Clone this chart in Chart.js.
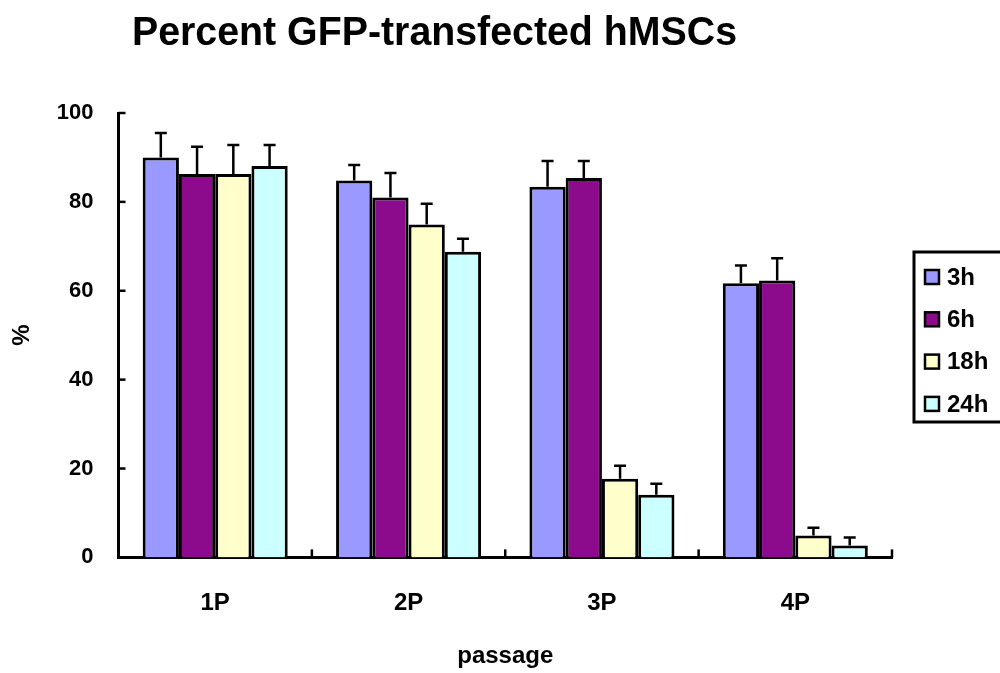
<!DOCTYPE html>
<html>
<head>
<meta charset="utf-8">
<script src="https://cdn.jsdelivr.net/npm/chart.js@4"></script>
<style>
  html, body { margin: 0; padding: 0; background: #fff; }
  #wrap { width: 1000px; height: 673px; }
</style>
</head>
<body>
<div id="wrap"><canvas id="gfpChart"></canvas></div>
<script>
// passages and series
const passages = ["1P", "2P", "3P", "4P"];
const seriesNames = ["3h", "6h", "18h", "24h"];
const values3h = [90, 84.8, 83.4, 61.7];
const values6h = [86.3, 81, 85.4, 62.3];
const values18h = [86.3, 74.9, 17.7, 4.9];
const values24h = [88.1, 68.8, 14.1, 2.7];
// upward error (SD) for each bar
const err3h = [5.5, 3.5, 5.8, 4.0];
const err6h = [6.1, 5.5, 3.8, 5.0];
const err18h = [6.5, 4.7, 2.9, 1.8];
const err24h = [4.7, 2.9, 2.5, 1.8];
const yTicks = [0, 20, 40, 60, 80, 100];

const fillColors = ["#9999FF", "#8C0A8C", "#FFFFCC", "#CCFFFF"];
const allValues = [values3h, values6h, values18h, values24h];
const allErrors = [err3h, err6h, err18h, err24h];

const fontFamily = "'Liberation Sans', Arial, sans-serif";
const tickFont = { family: fontFamily, size: 22, weight: "bold" };
const labelFont = { family: fontFamily, size: 24, weight: "bold" };

// error bars on top of each bar (upper side only)
const errorBars = {
    id: "errorBars",
    afterDatasetsDraw(chart) {
        const ctx = chart.ctx;
        const yScale = chart.scales.y;
        ctx.save();
        ctx.strokeStyle = "#000";
        ctx.lineWidth = 2.5;
        chart.data.datasets.forEach((ds, i) => {
            const meta = chart.getDatasetMeta(i);
            meta.data.forEach((bar, j) => {
                const top = yScale.getPixelForValue(ds.data[j] + ds.errors[j]);
                ctx.beginPath();
                ctx.moveTo(bar.x, bar.y);
                ctx.lineTo(bar.x, top);
                ctx.moveTo(bar.x - 6, top);
                ctx.lineTo(bar.x + 6, top);
                ctx.stroke();
            });
        });
        ctx.restore();
    }
};

// inward tick marks, title and the framed legend
const decorations = {
    id: "decorations",
    afterDraw(chart) {
        const ctx = chart.ctx;
        const area = chart.chartArea;
        const yScale = chart.scales.y;
        ctx.save();
        ctx.strokeStyle = "#000";
        ctx.lineWidth = 2.5;
        yTicks.forEach(v => {
            const py = yScale.getPixelForValue(v);
            ctx.beginPath();
            ctx.moveTo(area.left, py);
            ctx.lineTo(area.left + 7, py);
            ctx.stroke();
        });
        const step = (area.right - area.left) / passages.length;
        for (let i = 0; i <= passages.length; i++) {
            const px = area.left + i * step;
            ctx.beginPath();
            ctx.moveTo(px, area.bottom);
            ctx.lineTo(px, area.bottom - 8);
            ctx.stroke();
        }

        // legend, framed, at the right edge
        const lx = 914, ly = 252, lh = 170;
        ctx.lineWidth = 3;
        ctx.strokeRect(lx, ly, 1000 - lx + 5, lh);
        ctx.font = "bold 24px " + fontFamily;
        ctx.textBaseline = "middle";
        ctx.textAlign = "left";
        seriesNames.forEach((name, i) => {
            const cy = 277 + i * 42.3;
            ctx.fillStyle = fillColors[i];
            ctx.fillRect(925, cy - 7, 14, 14);
            ctx.lineWidth = 2.5;
            ctx.strokeRect(925, cy - 7, 14, 14);
            ctx.fillStyle = "#000";
            ctx.fillText(name, 947, cy + 1);
        });

        // title, fitted to the original's width
        const text = "Percent GFP-transfected hMSCs";
        ctx.font = "bold 41px " + fontFamily;
        ctx.textBaseline = "alphabetic";
        const w = ctx.measureText(text).width;
        ctx.translate(132, 45);
        ctx.scale(605 / w, 1);
        ctx.fillText(text, 0, 0);
        ctx.restore();
    }
};

new Chart(document.getElementById("gfpChart"), {
    type: "bar",
    data: {
        labels: passages,
        datasets: seriesNames.map((name, i) => ({
            label: name,
            data: allValues[i],
            errors: allErrors[i],
            backgroundColor: fillColors[i],
            borderColor: "#000",
            borderWidth: 3,
            borderSkipped: "bottom",
            categoryPercentage: 0.75,
            barPercentage: 1.0
        }))
    },
    options: {
        responsive: true,
        maintainAspectRatio: false,
        animation: false,
        layout: {
            padding: { top: 113, left: 4, right: 108, bottom: 0 }
        },
        plugins: {
            title: { display: false },
            tooltip: { enabled: false },
            legend: { display: false }
        },
        scales: {
            x: {
                offset: true,
                grid: { display: false },
                border: { color: "#000", width: 3 },
                ticks: { color: "#000", font: labelFont, padding: 24 },
                title: { display: true, text: "passage", color: "#000", font: labelFont, padding: { top: 0, bottom: 2 } }
            },
            y: {
                min: 0,
                max: 100,
                grid: { display: false },
                border: { color: "#000", width: 3 },
                ticks: { stepSize: 20, color: "#000", font: tickFont, padding: 17 },
                title: { display: true, text: "%", color: "#000", font: labelFont, padding: { top: 4, bottom: 3 } }
            }
        }
    },
    plugins: [errorBars, decorations]
});
</script>
</body>
</html>
